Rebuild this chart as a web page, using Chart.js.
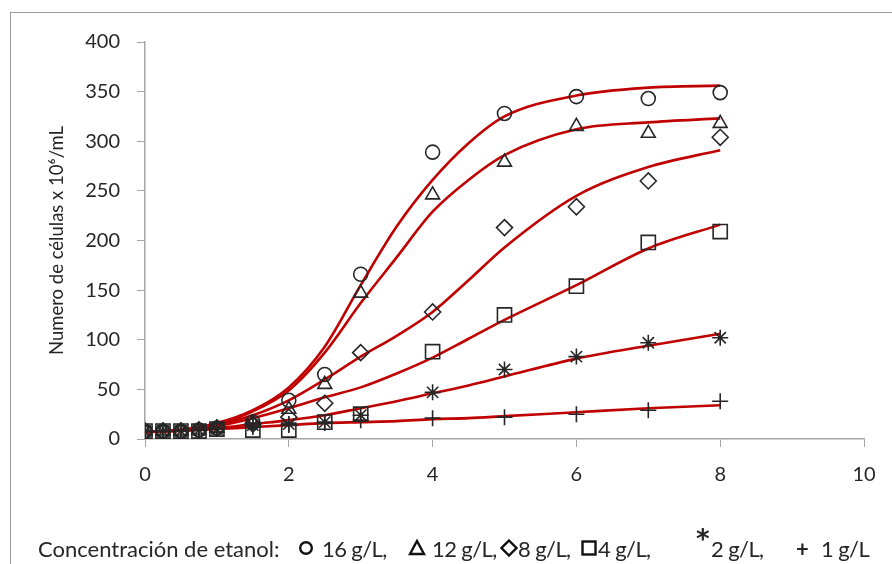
<!DOCTYPE html>
<html>
<head>
<meta charset="utf-8">
<script src="https://cdn.jsdelivr.net/npm/chart.js@4.4.0/dist/chart.umd.min.js"></script>
<style>
body{margin:0;background:#fff;}
#wrap{position:relative;width:892px;height:564px;overflow:hidden;font-family:Lato,sans-serif;color:#262626;}
#ramka{position:absolute;left:10px;top:12px;width:900px;height:600px;border-left:1px solid #9a9a9a;border-top:1px solid #9a9a9a;}
#wykres{position:absolute;left:0;top:0;}
.leg{position:absolute;top:536px;font-size:22px;line-height:26px;white-space:pre;}
.krotki{letter-spacing:-0.6px;}
.sym{position:absolute;}
</style>
</head>
<body>
<div id="wrap">
  <div id="ramka"></div>
  <canvas id="wykres" width="892" height="564"></canvas>
  <span class="leg" style="left:38px">Concentración de etanol:</span>
  <svg class="sym" style="left:298px;top:540px" width="16" height="16"><circle cx="8" cy="8" r="5.8" fill="none" stroke="#111" stroke-width="2.4"/></svg>
  <span class="leg krotki" style="left:322px">16 g/L,</span>
  <svg class="sym" style="left:408px;top:539px" width="18" height="17"><polygon points="9,2 16,15 2,15" fill="none" stroke="#111" stroke-width="2.4"/></svg>
  <span class="leg krotki" style="left:432px">12 g/L,</span>
  <svg class="sym" style="left:500px;top:539px" width="18" height="18"><polygon points="9,1.5 16.5,9 9,16.5 1.5,9" fill="none" stroke="#111" stroke-width="2.4"/></svg>
  <span class="leg krotki" style="left:518px">8 g/L,</span>
  <svg class="sym" style="left:581px;top:540px" width="16" height="16"><rect x="1.5" y="1.5" width="13" height="13" fill="none" stroke="#111" stroke-width="2.4"/></svg>
  <span class="leg krotki" style="left:598px">4 g/L,</span>
  <span class="leg" style="left:696px;top:526px;font-family:'DejaVu Sans';font-size:26px;font-weight:bold">*</span>
  <span class="leg krotki" style="left:711px">2 g/L,</span>
  <span class="leg" style="left:796px;font-weight:bold">+</span>
  <span class="leg krotki" style="left:821px">1 g/L</span>
</div>
<script>
// dni pomiaru (oś X)
const dni = [0, 0.25, 0.5, 0.75, 1, 1.5, 2, 2.5, 3, 4, 5, 6, 7, 8]
// pomiary dla każdego stężenia etanolu
const g16 = [8, 8, 8, 9, 11, 17, 39, 65, 166, 289, 328, 345, 343, 349]
const g12 = [8, 8, 8, 9, 11, 16, 30, 55, 147, 246, 279, 315, 308, 318]
const g8 = [8, 8, 8, 9, 11, 15, 22, 36, 87, 128, 213, 234, 260, 304]
const g4 = [8, 8, 8, 8, 10, 9, 9, 17, 25, 88, 125, 154, 198, 209]
const g2 = [8, 8, 8, 9, 10, 14, 15, 17, 24, 47, 70, 83, 97, 102]
const g1 = [8, 8, 8, 9, 10, 12, 14, 16, 19, 21, 22, 25, 29, 38]

// krzywe dopasowania
const dniKrzywej = [0, 0.5, 1, 1.5, 2, 2.5, 3, 3.5, 4, 4.5, 5, 6, 7, 8]
const k16 = [7, 9, 16, 29, 52, 93, 155, 214, 261, 298, 325, 346, 354, 356]
const k12 = [7, 9, 15, 28, 49, 87, 137, 183, 229, 261, 286, 312, 319, 323]
const k8 = [7, 9, 14, 24, 39, 60, 83, 104, 128, 160, 193, 245, 274, 291]
const k4 = [7, 9, 13, 21, 31, 42, 52, 66, 82, 101, 120, 155, 192, 216]
const k2 = [7, 9, 11, 15, 19, 24, 31, 38, 46, 54, 63, 81, 94, 106]
const k1 = [7, 8, 10, 12, 14, 16, 17, 18, 20, 21, 23, 27, 31, 34]

const xTicks = [0, 2, 4, 6, 8, 10]
const yTicks = [0, 50, 100, 150, 200, 250, 300, 350, 400]

const szary = '#a6a6a6'
const tekst = '#262626'

function punkty(xs, ys){
    return xs.map((x, i) => ({x: x, y: ys[i]}))
}

function znaczniki(ys, styl, r){
    return {
        data: punkty(dni, ys),
        showLine: false,
        pointStyle: styl,
        pointRadius: r,
        pointBorderColor: '#262626',
        pointBackgroundColor: 'rgba(0,0,0,0)',
        pointBorderWidth: 1.6,
        order: 0
    }
}

function krzywa(ys){
    return {
        data: punkty(dniKrzywej, ys),
        showLine: true,
        borderColor: '#c00000',
        borderWidth: 2.6,
        pointRadius: 0,
        cubicInterpolationMode: 'monotone',
        order: 1
    }
}

const chart = new Chart(document.getElementById('wykres'), {
    type: 'scatter',
    data: {
        datasets: [
            znaczniki(g16, 'circle', 7),
            znaczniki(g12, 'triangle', 8),
            znaczniki(g8, 'rectRot', 8),
            znaczniki(g4, 'rect', 10),
            znaczniki(g2, 'star', 8),
            znaczniki(g1, 'cross', 8),
            krzywa(k16),
            krzywa(k12),
            krzywa(k8),
            krzywa(k4),
            krzywa(k2),
            krzywa(k1)
        ]
    },
    options: {
        responsive: false,
        animation: false,
        devicePixelRatio: 1,
        layout: {padding: {left: 10, top: 42, right: 28, bottom: 65}},
        plugins: {legend: {display: false}, tooltip: {enabled: false}},
        scales: {
            x: {
                type: 'linear', min: 0, max: 10,
                afterBuildTicks: s => { s.ticks = xTicks.map(v => ({value: v})) },
                afterFit: s => { s.height = 60 },
                ticks: {color: tekst, font: {family: 'Lato', size: 20}, padding: 16},
                grid: {drawOnChartArea: false, tickLength: 8, color: szary},
                border: {color: szary, width: 1.5}
            },
            y: {
                min: 0, max: 400,
                afterBuildTicks: s => { s.ticks = yTicks.map(v => ({value: v})) },
                afterFit: s => { s.width = 135 },
                ticks: {color: tekst, font: {family: 'Lato', size: 20}, padding: 17},
                grid: {drawOnChartArea: false, tickLength: 8, color: szary},
                border: {color: szary, width: 1.5},
                title: {
                    display: true,
                    text: 'Numero de células x 10⁶/mL',
                    color: tekst,
                    font: {family: 'Lato', size: 18.5},
                    padding: {top: 36, bottom: 0}
                }
            }
        }
    }
})
</script>
</body>
</html>
